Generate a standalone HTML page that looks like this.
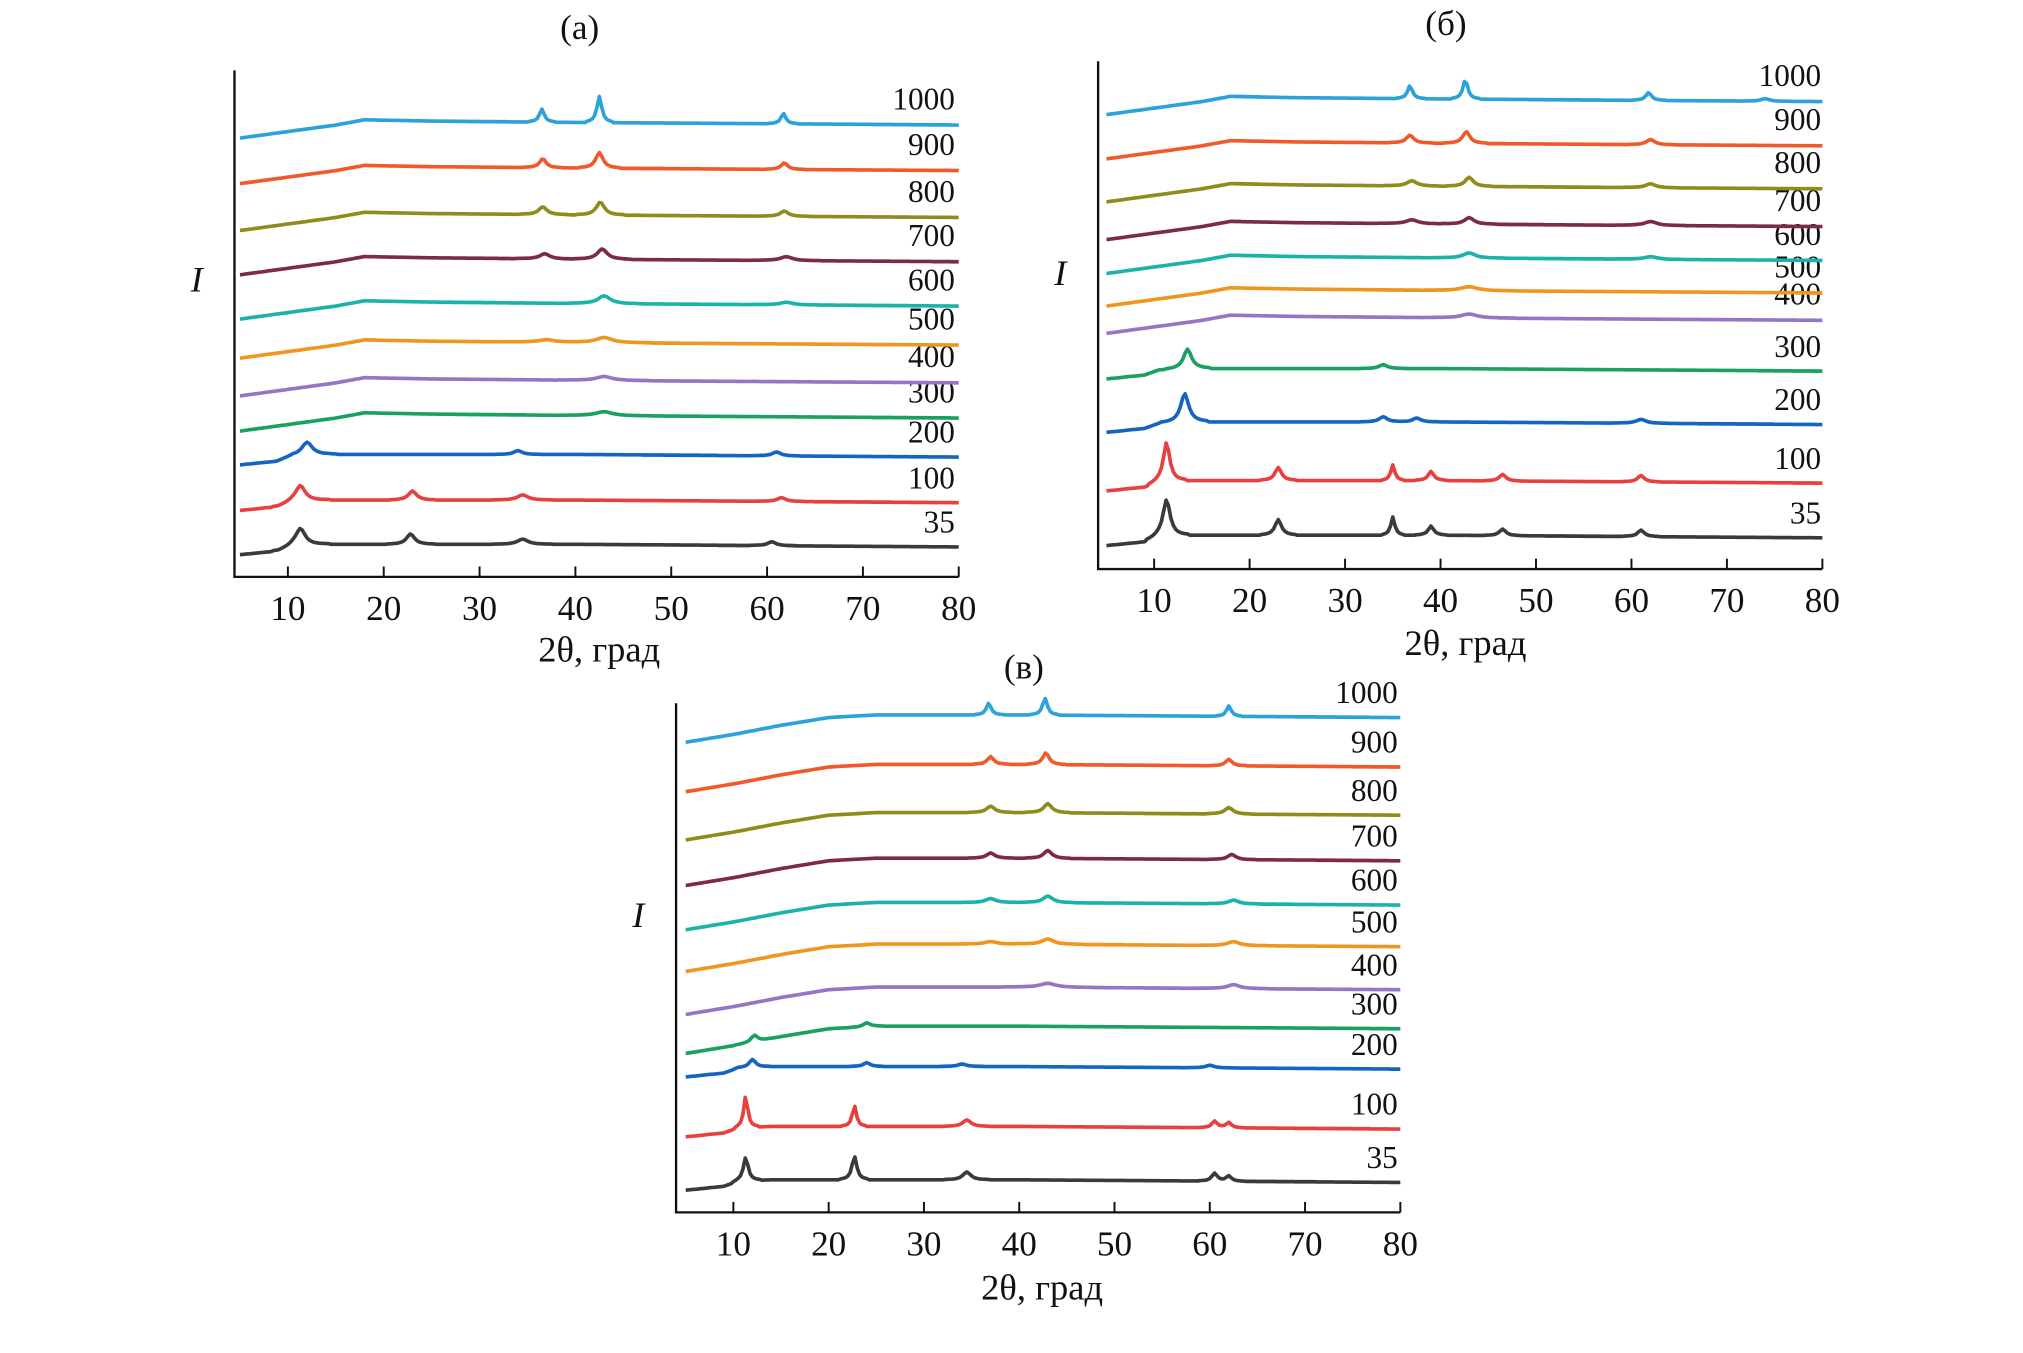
<!DOCTYPE html>
<html><head><meta charset="utf-8"><style>
html,body{margin:0;padding:0;background:#fff;}
svg{display:block;}
text{font-family:"Liberation Serif",serif;fill:#111;}
</style></head><body>
<svg id="chart" width="2023" height="1353" viewBox="0 0 1553 1039" preserveAspectRatio="none" xmlns="http://www.w3.org/2000/svg">
</svg>
<script>
const labels = ["35","100","200","300","400","500","600","700","800","900","1000"];
const colors = ["#3a3a3a","#e8403f","#1565c0","#1aa060","#9575c4","#f0961e","#1ab3ab","#7c2c42","#8f8c1c","#f05a2a","#2ba2d8"];
const xTicks = [10,20,30,40,50,60,70,80];
// levels (intensity, a.u.) per panel
const levelsA = [25,59,94,125,152,181,211,245,279,315,350];
const levelsB = [26,68,113,154,194,215,240,266,295,328,362];
const levelsC = [25,66,112,143,173,206,238,272,307,344,382];
// baseline shapes: [2theta, offset]
const shapeHigh = [[5,-13],[10,-8],[15,-3],[18,1],[25,0],[40,-1],[60,-2],[80,-3]];
const shapeHighC = [[5,-21],[10,-15],[15,-8],[20,-2],[25,0],[40,0],[60,-1],[80,-2]];
const shapeLow = [[5,-8],[9,-5],[10.5,-1],[14,0],[40,0],[80,-2]];
// peaks: [position, height, halfwidth]
const peaksA = [
 [[11.3,13,1.2],[22.8,8,1],[34.5,4,1.3],[60.5,3,1]],
 [[11.3,12,1.2],[23,7,1],[34.5,4,1.3],[61.5,3,1]],
 [[12,10,1.3],[34,3,1],[61,3,1]],
 [[43,3,2]],[[43,3,2]],[[37,2,2],[43,4,2]],[[43,6,1.5],[62,2,1.5]],
 [[36.8,4,1.2],[42.8,8,1.2],[62,3,1.5]],
 [[36.6,6,1],[42.6,10,1],[61.8,4,1]],
 [[36.6,7,0.8],[42.5,12,0.9],[61.8,5,0.8]],
 [[36.5,10,0.6],[42.5,20,0.6],[61.7,8,0.6]]];
const peaksB = [
 [[11.3,28,0.9],[23,12,0.8],[35,14,0.5],[39,7,0.7],[46.5,5,0.8],[61,5,0.8]],
 [[11.3,30,0.8],[23,10,0.8],[35,12,0.5],[39,7,0.7],[46.5,5,0.8],[61,5,0.8]],
 [[13.2,22,1],[34,4,1],[37.5,3,1],[61,3,1.2]],
 [[13.5,15,1],[34,3,1]],
 [[43,3,2]],[[43,3,2]],[[43,4,1.5],[62,2,1.5]],
 [[37,3,1.5],[43,5,1.2],[62,3,1.5]],
 [[37,4,1.2],[43,7,1],[62,3,1.2]],
 [[36.8,6,0.9],[42.7,9,0.9],[62,4,1]],
 [[36.8,10,0.6],[42.6,15,0.6],[61.8,6,0.7],[74,2,1]]];
const peaksC = [
 [[11.3,18,0.6],[22.7,18,0.6],[34.5,6,1],[60.5,6,0.7],[62,4,0.7]],
 [[11.3,24,0.5],[22.7,16,0.5],[34.5,5,1],[60.5,5,0.7],[62,4,0.7]],
 [[12,6,0.8],[24,3,0.8],[34,2,1],[60,2,1]],
 [[12.2,5,0.8],[24,3,0.8]],
 [[43,3,2],[62.5,3,1.5]],[[37,2,1.5],[43,4,1.5],[62.5,3,1.5]],
 [[37,3,1.2],[43,5,1.2],[62.5,3,1.2]],
 [[37,4,1],[43,6,1],[62.3,4,1]],
 [[37,5,1],[43,7,1],[62,5,1]],
 [[37,6,0.8],[42.8,9,0.8],[62,5,0.8]],
 [[36.8,9,0.6],[42.7,13,0.6],[62,8,0.6]]];

const panels = [
 {id:"a", title:"(а)", levels:levelsA, peaks:peaksA, x0:180, x10:221, x80:736, y0:443, top:54, tx:445, ty:30, ix:151, iy:224, xt:460, yt:508, lowIdx:3, hc:false, lx:733},
 {id:"b", title:"(б)", levels:levelsB, peaks:peaksB, x0:843, x10:886, x80:1399, y0:437, top:47, tx:1110, ty:27, ix:814, iy:219, xt:1125, yt:503, lowIdx:4, hc:false, lx:1398},
 {id:"c", title:"(в)", levels:levelsC, peaks:peaksC, x0:519, x10:563, x80:1075, y0:931, top:540, tx:786, ty:521, ix:490, iy:712, xt:800, yt:998, lowIdx:3, hc:true, lx:1073}];

const svg = document.getElementById('chart');
const NS = "http://www.w3.org/2000/svg";
function mk(tag, attrs){const e=document.createElementNS(NS,tag);for(const k in attrs)e.setAttribute(k,attrs[k]);svg.appendChild(e);return e;}
function interp(shape,x){for(let i=0;i<shape.length-1;i++){const a=shape[i],b=shape[i+1];if(x>=a[0]&&x<=b[0])return a[1]+(b[1]-a[1])*(x-a[0])/(b[0]-a[0]);}return shape[shape.length-1][1];}

panels.forEach(p=>{
  const sx = v => p.x10 + (v-10)*(p.x80-p.x10)/70;
  const sy = v => p.y0 - v;
  const t = mk('text',{x:p.tx,y:p.ty,'font-size':27,'text-anchor':'middle'}); t.textContent=p.title;
   
  const ax = mk('path',{d:`M${p.x0},${p.top} L${p.x0},${p.y0} L${sx(80)},${p.y0}`,stroke:'#111','stroke-width':1.8,fill:'none'});
   
  xTicks.forEach(v=>{
    const tk=mk('line',{x1:sx(v),x2:sx(v),y1:p.y0,y2:p.y0-8,stroke:'#111','stroke-width':1.5});
     
    const tl=mk('text',{x:sx(v),y:p.y0+33,'font-size':27,'text-anchor':'middle'}); tl.textContent=v;
     
  });
  const xl=mk('text',{x:p.xt,y:p.yt,'font-size':28,'text-anchor':'middle'}); xl.textContent="2θ, град";
   
  const yl=mk('text',{x:p.ix,y:p.iy,'font-size':28,'font-style':'italic','text-anchor':'middle'}); yl.textContent="I";
   
  labels.forEach((lab,i)=>{
    const L=p.levels[i];
    const shape = i<p.lowIdx ? shapeLow : (p.hc?shapeHighC:shapeHigh);
    let pts=[];
    for(let x=5;x<=80;x+=0.25){
      let y=L+interp(shape,x);
      p.peaks[i].forEach(pk=>{const d=Math.abs(x-pk[0]);if(d<pk[2]*2.5){y+=pk[1]/(1+(d/pk[2]*2)*(d/pk[2]*2));}});
      pts.push(sx(x).toFixed(1)+","+sy(y).toFixed(1));
    }
    const pl=mk('polyline',{points:pts.join(' '),fill:'none',stroke:colors[i],'stroke-width':2.8,'stroke-linejoin':'round'});
     
    const lt=mk('text',{x:p.lx,y:sy(L+9),'font-size':24,'text-anchor':'end'}); lt.textContent=lab;
     
  });
});
</script>
</body></html>
